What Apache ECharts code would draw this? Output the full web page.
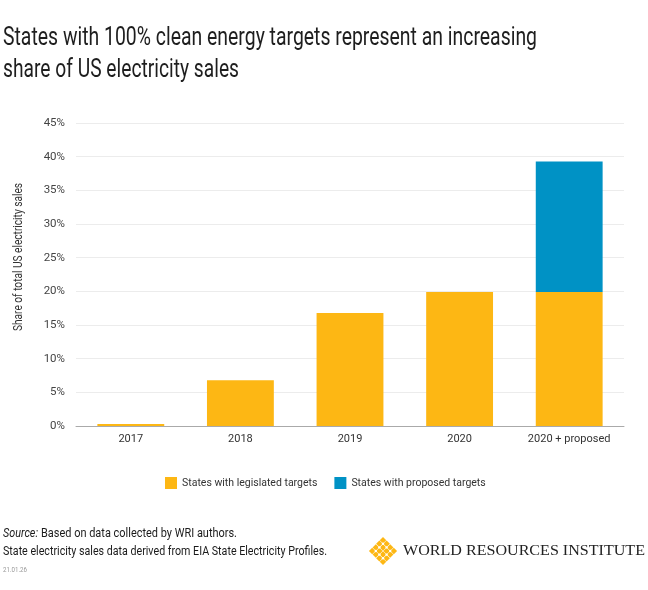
<!DOCTYPE html>
<html><head><meta charset="utf-8">
<script src="https://cdn.jsdelivr.net/npm/echarts@6/dist/echarts.min.js"></script>
<style>html,body{margin:0;padding:0;background:#fff}#c{width:648px;height:590px}</style>
</head><body><div id="c"></div>
<script>
const categories = ['2017', '2018', '2019', '2020', '2020 + proposed'];
const legislated = [0.3, 6.8, 16.8, 19.9, 19.9];
const proposed = [null, null, null, null, 19.4];
const seriesNames = ['States with legislated targets', 'States with proposed targets'];
const titleLines = ['States with 100% clean energy targets represent an increasing', 'share of US electricity sales'];
const yAxisTitle = 'Share of total US electricity sales';
const footerLines = ['Based on data collected by WRI authors.', 'State electricity sales data derived from EIA State Electricity Profiles.'];

const FF = 'Roboto, sans-serif';
const cvs = document.createElement('canvas').getContext('2d');
function w(text, font) { cvs.font = font; return cvs.measureText(text).width; }

const chart = echarts.init(document.getElementById('c'));

function sText(text, x, y, font, size, targetW, fill, extra) {
  const f = (extra && extra.fontStyle ? extra.fontStyle + ' ' : '') + size + 'px ' + font;
  const s = targetW / w(text, f);
  return {type: 'text', x: x, y: y, scaleX: s, silent: true,
    style: Object.assign({text: text, fontFamily: font, fontSize: size, fill: fill, verticalAlign: 'top'}, extra || {})};
}

const logo = [];
const cx = 383, cy = 551;
const pts = [[0,-3],[-1,-2],[1,-2],[-2,-1],[0,-1],[2,-1],[-3,0],[-1,0],[1,0],[3,0],[-2,1],[0,1],[2,1],[-1,2],[1,2],[0,3]];
pts.forEach(p => {
  logo.push({type:'rect', shape:{x:-2.3,y:-2.3,width:4.6,height:4.6}, x: cx + p[0]*3.6, y: cy + p[1]*3.6, rotation: Math.PI/4, style:{fill:'#FDB714'}});
});
[[-1,-1],[1,-1],[-1,1],[1,1],[0,-2],[0,2],[-2,0],[2,0]].forEach(p => {
  logo.push({type:'circle', shape:{cx: cx + p[0]*3.6, cy: cy + p[1]*3.6, r: 1.2}, style:{fill:'#fff'}});
});

const yName = sText(yAxisTitle, 19, 257, FF, 12.5, 148, '#333', {align: 'center', verticalAlign: 'middle'});
yName.rotation = Math.PI / 2;

const srcW = 35;
chart.setOption({
  animation: false,
  legend: {
    data: seriesNames,
    left: 160, top: 472,
    icon: 'rect', itemWidth: 12, itemHeight: 12, itemGap: 17,
    textStyle: {fontFamily: FF, fontSize: 10.5, color: '#333'}
  },
  grid: {left: 76, right: 24, top: 123, bottom: 164},
  xAxis: {
    type: 'category', data: categories,
    axisLine: {lineStyle: {color: '#aaa'}},
    axisTick: {show: false},
    axisLabel: {interval: 0, fontFamily: FF, fontSize: 11, color: '#333', margin: 8}
  },
  yAxis: {
    type: 'value', min: 0, max: 45, interval: 5,
    axisLabel: {formatter: '{value}%', fontFamily: FF, fontSize: 11.5, color: '#444', margin: 11},
    splitLine: {lineStyle: {color: '#ececec'}},
    axisLine: {show: false}, axisTick: {show: false}
  },
  series: [
    {name: seriesNames[0], type: 'bar', stack: 'a', data: legislated, barCategoryGap: '39%',
     itemStyle: {color: '#FDB714'}},
    {name: seriesNames[1], type: 'bar', stack: 'a', data: proposed,
     itemStyle: {color: '#0092C5'}}
  ],
  graphic: [
    sText(titleLines[0], 3, 26, FF, 25, 534, '#1e1e1e'),
    sText(titleLines[1], 3, 58, FF, 25, 236, '#1e1e1e'),
    yName,
    sText('Source:', 3, 527, FF, 13, srcW, '#1a1a1a', {fontStyle: 'italic'}),
    sText(footerLines[0], 3 + srcW + 3, 527, FF, 13, 237 - srcW - 6, '#1a1a1a'),
    sText(footerLines[1], 3, 545, FF, 13, 324, '#1a1a1a'),
    sText('21.01.26', 3, 567, FF, 7, 24, '#999'),
    {type: 'group', children: logo},
    sText('WORLD RESOURCES INSTITUTE', 403, 543, '"Liberation Serif", "DejaVu Serif", serif', 15.5, 242, '#222')
  ]
});
</script></body></html>
